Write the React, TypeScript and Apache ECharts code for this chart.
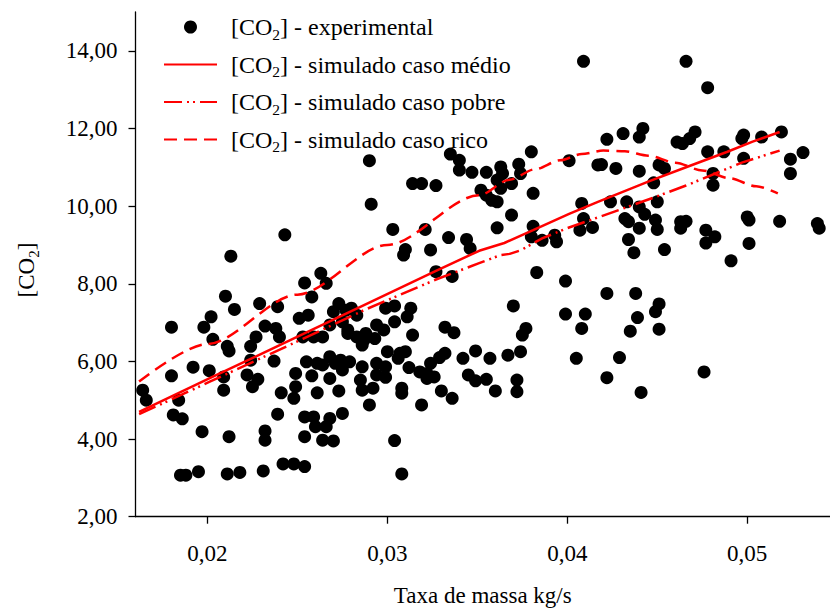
import React, { useEffect, useRef } from "react";
import * as echarts from "echarts";

const FONT = '"Liberation Serif", "Times New Roman", serif';

const xTickValues = [0.02, 0.03, 0.04, 0.05];
const yTickValues = [2, 4, 6, 8, 10, 12, 14];

const seriesNames = ["experimental", "medio", "pobre", "rico"];
const legendLabels = [
  "[CO{s|2}] - experimental",
  "[CO{s|2}] - simulado caso médio",
  "[CO{s|2}] - simulado caso pobre",
  "[CO{s|2}] - simulado caso rico",
];

const experimental: number[][] = [
  [0.029, 11.17], [0.0291, 10.05], [0.0243, 9.26], [0.0213, 8.71], [0.0263, 8.27], [0.0254, 8.02], [0.0266, 8.01], [0.0258, 7.66], [0.021, 7.68], [0.0215, 7.34],
  [0.0202, 7.15], [0.0229, 7.49], [0.0239, 7.41], [0.018, 6.88], [0.0198, 6.88], [0.0232, 6.91], [0.0238, 6.85], [0.0251, 7.11], [0.0256, 7.19], [0.0273, 7.49],
  [0.027, 7.28], [0.0277, 7.32], [0.028, 7.37], [0.0283, 7.19], [0.0268, 6.94], [0.0275, 7.02], [0.0278, 6.81], [0.0203, 6.57], [0.0211, 6.39], [0.0212, 6.27],
  [0.0224, 6.39], [0.0227, 6.63], [0.024, 6.63], [0.0253, 6.63], [0.0259, 6.63], [0.0264, 6.63], [0.0278, 6.72], [0.0283, 6.63], [0.0286, 6.42], [0.0288, 6.72],
  [0.018, 5.63], [0.0192, 5.85], [0.0201, 5.76], [0.0209, 5.6], [0.0209, 5.26], [0.0224, 6.03], [0.0222, 5.65], [0.0225, 5.35], [0.0228, 5.54], [0.0237, 6.01],
  [0.0241, 5.19], [0.0249, 5.69], [0.0249, 5.35], [0.0248, 5.05], [0.0255, 5.99], [0.0261, 5.95], [0.0264, 5.91], [0.0268, 6.12], [0.0271, 5.95], [0.0274, 6.03],
  [0.0279, 5.99], [0.0258, 5.63], [0.0261, 5.19], [0.0268, 5.56], [0.0273, 5.24], [0.0275, 5.78], [0.0285, 5.52], [0.0286, 5.26], [0.029, 4.88], [0.0164, 5.26],
  [0.0166, 5.0], [0.0184, 5.0], [0.0181, 4.62], [0.0186, 4.52], [0.0197, 4.19], [0.0212, 4.06], [0.0232, 4.21], [0.0232, 3.97], [0.0239, 4.64], [0.0254, 4.57],
  [0.0259, 4.57], [0.026, 4.32], [0.0266, 4.32], [0.0268, 4.53], [0.0275, 4.66], [0.0254, 4.06], [0.0264, 3.97], [0.027, 3.95], [0.0185, 3.07], [0.0188, 3.07],
  [0.0195, 3.16], [0.0211, 3.1], [0.0218, 3.14], [0.0231, 3.18], [0.0242, 3.36], [0.0248, 3.36], [0.0254, 3.29],
  [0.0335, 11.34], [0.034, 11.18], [0.034, 10.93], [0.0347, 10.87], [0.0355, 10.87], [0.0361, 10.67], [0.0363, 11.01], [0.0364, 10.84], [0.0373, 11.08], [0.0374, 10.84],
  [0.0369, 10.58], [0.0363, 10.46], [0.0352, 10.41], [0.0355, 10.28], [0.0358, 10.15], [0.0361, 10.11], [0.038, 11.4], [0.0401, 11.17], [0.0417, 11.06], [0.0314, 10.58],
  [0.0319, 10.58], [0.0327, 10.53], [0.0381, 10.33], [0.0408, 10.07], [0.0409, 9.68], [0.0407, 9.38], [0.0414, 9.45], [0.0369, 9.77], [0.0303, 9.4], [0.0321, 9.4],
  [0.0334, 9.19], [0.0344, 9.14], [0.0346, 8.91], [0.031, 8.88], [0.0309, 8.74], [0.0324, 8.87], [0.0361, 9.44], [0.0381, 9.48], [0.038, 9.21], [0.0386, 9.12],
  [0.0393, 9.25], [0.0394, 9.08], [0.0327, 8.31], [0.0336, 8.19], [0.0383, 8.29], [0.0399, 8.07], [0.037, 7.43], [0.0399, 7.22], [0.041, 7.22], [0.0299, 7.37],
  [0.0304, 7.43], [0.0313, 7.37], [0.0311, 7.15], [0.0294, 6.94], [0.0298, 6.81], [0.0304, 7.02], [0.0287, 6.55], [0.0293, 6.59], [0.0314, 6.68], [0.0332, 6.88],
  [0.0337, 6.74], [0.0377, 6.85], [0.0375, 6.68], [0.0408, 6.85], [0.03, 6.25], [0.0307, 6.21], [0.031, 6.25], [0.0306, 6.08], [0.0332, 6.21], [0.0329, 6.1],
  [0.0324, 5.95], [0.0312, 5.84], [0.0318, 5.73], [0.0322, 5.69], [0.0326, 5.6], [0.0322, 5.56], [0.0342, 6.08], [0.0349, 6.27], [0.0357, 6.08], [0.0367, 6.16],
  [0.0374, 6.25], [0.0405, 6.08], [0.0286, 5.86], [0.0294, 5.95], [0.0299, 5.86], [0.0294, 5.65], [0.0299, 5.59], [0.0292, 5.31], [0.0308, 5.31], [0.0308, 5.18],
  [0.0319, 4.88], [0.033, 5.24], [0.0336, 5.05], [0.0345, 5.65], [0.0349, 5.5], [0.0355, 5.54], [0.036, 5.24], [0.0372, 5.52], [0.0372, 5.22], [0.0304, 3.96],
  [0.0308, 3.1],
  [0.0478, 11.4], [0.0487, 11.4], [0.0498, 11.23], [0.0524, 11.21], [0.0531, 11.38], [0.0524, 10.84], [0.0419, 11.07], [0.0427, 10.97], [0.044, 10.9], [0.0451, 11.06],
  [0.0454, 10.97], [0.0448, 10.6], [0.0481, 10.84], [0.0481, 10.54], [0.0424, 10.11], [0.0433, 10.11], [0.045, 10.11], [0.044, 9.98], [0.0443, 9.79], [0.0432, 9.68],
  [0.0434, 9.6], [0.0449, 9.64], [0.045, 9.4], [0.044, 9.43], [0.0434, 9.14], [0.0437, 8.8], [0.0454, 8.88], [0.0463, 9.6], [0.0466, 9.61], [0.0463, 9.43],
  [0.0477, 9.38], [0.0482, 9.21], [0.0477, 9.05], [0.05, 9.72], [0.0501, 9.64], [0.0501, 9.04], [0.0491, 8.59], [0.0518, 9.61], [0.0539, 9.55], [0.054, 9.43],
  [0.0422, 7.75], [0.0438, 7.75], [0.0451, 7.48], [0.0449, 7.28], [0.0439, 7.13], [0.0435, 6.78], [0.0451, 6.83], [0.0429, 6.1], [0.0422, 5.58], [0.0441, 5.2],
  [0.0476, 5.73],
  [0.0409, 13.73], [0.0466, 13.73], [0.0478, 13.05], [0.0422, 11.72], [0.0431, 11.87], [0.0442, 12.0], [0.044, 11.78], [0.0461, 11.65], [0.0464, 11.61], [0.0471, 11.91],
  [0.0468, 11.74], [0.0498, 11.83], [0.0497, 11.74], [0.0508, 11.78], [0.0519, 11.91],
];

const medioX = [0.0162, 0.0201, 0.0253, 0.0287, 0.0327, 0.0351, 0.0365, 0.0381, 0.0401, 0.0417, 0.0446, 0.0466, 0.0489, 0.0503, 0.0518];
const medioY = [4.7, 5.56, 6.7, 7.45, 8.33, 8.85, 9.05, 9.38, 9.8, 10.11, 10.65, 11.0, 11.4, 11.66, 11.91];

const pobreX = [0.0162, 0.0201, 0.0253, 0.0287, 0.0327, 0.0351, 0.0363, 0.0368, 0.0374, 0.0386, 0.0401, 0.0419, 0.0448, 0.0466, 0.0497, 0.0518];
const pobreY = [4.64, 5.47, 6.58, 7.32, 8.11, 8.53, 8.74, 8.77, 8.86, 9.17, 9.45, 9.74, 10.22, 10.53, 11.12, 11.43];

const ricoX = [0.0162, 0.02, 0.025, 0.03, 0.0351, 0.0368, 0.0382, 0.0396, 0.0408, 0.042, 0.0432, 0.0445, 0.046, 0.0475, 0.049, 0.0505, 0.0517];
const ricoY = [5.48, 6.45, 7.72, 9.0, 10.28, 10.68, 10.95, 11.18, 11.34, 11.43, 11.41, 11.3, 11.12, 10.92, 10.72, 10.51, 10.33];

const zip = (xs: number[], ys: number[]) => xs.map((x, i) => [x, ys[i]]);

export default function App() {
  const ref = useRef<HTMLDivElement>(null);

  useEffect(() => {
    document.body.style.margin = "0";
    const chart = echarts.init(ref.current!, null, { renderer: "svg" });
    const subStyle = { fontSize: 15.5, lineHeight: 14, verticalAlign: "bottom", fontFamily: FONT, color: "#000" };
    const red = "#ff0000";
    const lineSeries = (name: string, data: number[][], type: any, smooth: number) => ({
      name,
      type: "line",
      data,
      symbol: "none",
      smooth,
      smoothMonotone: "x",
      lineStyle: { color: red, width: 2.5, type },
      itemStyle: { color: red },
      z: 3,
    });
    const labelMap: Record<string, string> = {};
    seriesNames.forEach((n, i) => (labelMap[n] = legendLabels[i]));

    chart.setOption({
      animation: false,
      grid: { left: 135.5, right: 0, top: 12, bottom: 92.3, containLabel: false, outerBoundsMode: "none" },
      xAxis: {
        type: "value",
        min: 0.016,
        max: 0.0546,
        splitLine: { show: false },
        axisLine: { lineStyle: { color: "#000", width: 1.3 } },
        axisTick: { customValues: xTickValues, length: 7, lineStyle: { color: "#000", width: 1.3 } },
        axisLabel: {
          customValues: xTickValues,
          formatter: (v: number) => v.toFixed(2).replace(".", ","),
          fontFamily: FONT,
          fontSize: 23,
          color: "#000",
          margin: 25,
        },
        name: "Taxa de massa kg/s",
        nameLocation: "middle",
        nameGap: 67,
        nameTextStyle: { fontFamily: FONT, fontSize: 23, color: "#000" },
      },
      yAxis: {
        type: "value",
        min: 2,
        max: 15,
        splitLine: { show: false },
        axisLine: { lineStyle: { color: "#000", width: 1.3 } },
        axisTick: { customValues: yTickValues, length: 7, lineStyle: { color: "#000", width: 1.3 } },
        axisLabel: {
          customValues: yTickValues,
          formatter: (v: number) => v.toFixed(2).replace(".", ","),
          fontFamily: FONT,
          fontSize: 23,
          color: "#000",
          margin: 18,
        },
      },
      legend: {
        orient: "vertical",
        left: 163,
        top: 12,
        padding: 0,
        itemWidth: 53,
        itemHeight: 13,
        itemGap: 7.5,
        selectedMode: false,
        data: seriesNames.map((n, i) => (i === 0 ? { name: n } : { name: n, itemStyle: { opacity: 0 } })),
        formatter: (n: string) => labelMap[n],
        textStyle: {
          fontFamily: FONT,
          fontSize: 24,
          color: "#000",
          lineHeight: 30,
          padding: [0, 0, 0, 9],
          rich: { s: subStyle },
        },
      },
      graphic: [
        {
          type: "text",
          x: 26,
          y: 270,
          rotation: Math.PI / 2,
          style: {
            text: "[CO{s|2}]",
            fontFamily: FONT,
            fontSize: 23,
            fill: "#000",
            align: "center",
            verticalAlign: "middle",
            lineHeight: 30,
            rich: { s: { fontSize: 15, lineHeight: 14, verticalAlign: "bottom", fontFamily: FONT, fill: "#000" } },
          },
        },
      ],
      series: [
        {
          name: "experimental",
          type: "scatter",
          data: experimental,
          symbol: "circle",
          symbolSize: 13,
          itemStyle: { color: "#000", opacity: 1 },
          z: 2,
        },
        lineSeries("medio", zip(medioX, medioY), "solid", 0),
        lineSeries("pobre", zip(pobreX, pobreY), [18, 5, 2, 4, 2, 5], 0),
        lineSeries("rico", zip(ricoX, ricoY), [13, 7], 0.3),
      ],
    });
    return () => chart.dispose();
  }, []);

  return <div ref={ref} style={{ width: 830, height: 609 }} />;
}
